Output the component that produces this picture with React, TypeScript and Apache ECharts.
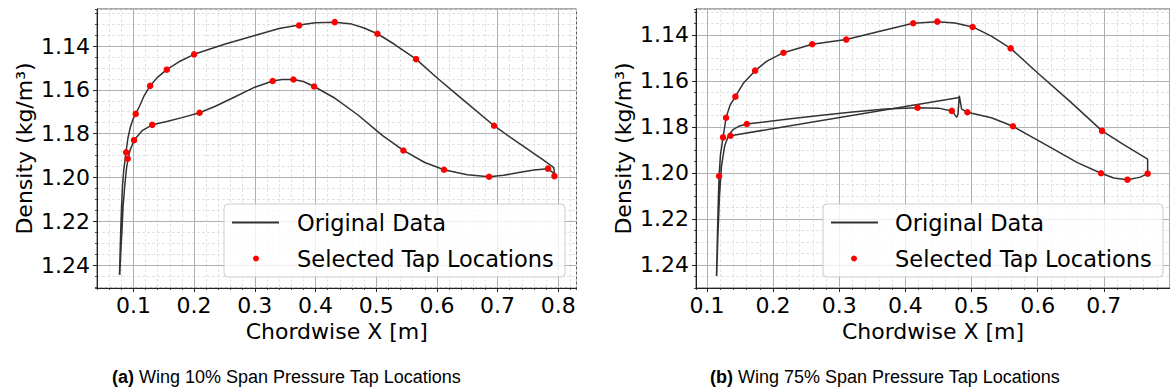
import { useEffect, useRef } from 'react';
import * as echarts from 'echarts';

// ---- Wing 10% span ----
const lineX10 = [0.077, 0.078, 0.079, 0.0805, 0.082, 0.084, 0.087, 0.091, 0.095, 0.1, 0.1038, 0.11, 0.118, 0.1275, 0.14, 0.155, 0.175, 0.2, 0.25, 0.3, 0.34, 0.373, 0.4, 0.4317, 0.46, 0.48, 0.502, 0.53, 0.5657, 0.6, 0.63, 0.66, 0.6942, 0.72, 0.75, 0.775, 0.7925, 0.794, 0.783, 0.76, 0.735, 0.71, 0.686, 0.65, 0.6118, 0.58, 0.5448, 0.51, 0.47, 0.43, 0.3977, 0.38, 0.3636, 0.345, 0.3295, 0.3, 0.265, 0.235, 0.209, 0.18, 0.155, 0.131, 0.115, 0.101, 0.094, 0.089, 0.086, 0.083, 0.081, 0.079, 0.0775];
const lineD10 = [1.2445, 1.235, 1.225, 1.213, 1.204, 1.197, 1.19, 1.182, 1.177, 1.173, 1.171, 1.1675, 1.1625, 1.1582, 1.1542, 1.1508, 1.1472, 1.1438, 1.1392, 1.1352, 1.132, 1.1304, 1.1294, 1.1291, 1.13, 1.1318, 1.1344, 1.1392, 1.146, 1.1545, 1.1615, 1.1685, 1.1764, 1.1815, 1.1872, 1.192, 1.1955, 1.1985, 1.196, 1.1966, 1.1978, 1.199, 1.1997, 1.1988, 1.1965, 1.1932, 1.1877, 1.1808, 1.1715, 1.1635, 1.1585, 1.1562, 1.1553, 1.1553, 1.156, 1.1588, 1.1635, 1.1675, 1.1705, 1.1727, 1.1745, 1.176, 1.1785, 1.183, 1.188, 1.195, 1.203, 1.213, 1.225, 1.235, 1.2445];
const tapX10 = [0.088, 0.0906, 0.101, 0.1038, 0.1275, 0.131, 0.155, 0.2, 0.209, 0.3295, 0.3636, 0.373, 0.3977, 0.4317, 0.502, 0.5448, 0.5657, 0.6118, 0.686, 0.6942, 0.783, 0.7936];
const tapD10 = [1.1885, 1.1915, 1.183, 1.171, 1.1582, 1.176, 1.1508, 1.1438, 1.1705, 1.156, 1.1553, 1.1306, 1.1585, 1.1291, 1.1344, 1.1877, 1.146, 1.1965, 1.1997, 1.1764, 1.196, 1.1994];

// ---- Wing 75% span ----
const lineX75 = [0.1145, 0.1155, 0.1165, 0.1175, 0.1184, 0.1205, 0.1244, 0.1289, 0.135, 0.143, 0.155, 0.1729, 0.19, 0.2157, 0.2591, 0.3106, 0.36, 0.4118, 0.4483, 0.475, 0.5017, 0.53, 0.5591, 0.6, 0.65, 0.6973, 0.73, 0.7662, 0.7662, 0.755, 0.7357, 0.715, 0.6958, 0.66, 0.62, 0.5626, 0.53, 0.4937, 0.485, 0.4815, 0.4795, 0.4777, 0.4702, 0.45, 0.4184, 0.37, 0.32, 0.27, 0.22, 0.1603, 0.148, 0.14, 0.133, 0.127, 0.122, 0.119, 0.1165, 0.1148];
const lineD75 = [1.2448, 1.232, 1.22, 1.209, 1.2013, 1.192, 1.1845, 1.176, 1.1705, 1.1668, 1.161, 1.1555, 1.1515, 1.1477, 1.144, 1.142, 1.1385, 1.1349, 1.1342, 1.1348, 1.1365, 1.1405, 1.1458, 1.1565, 1.1692, 1.1817, 1.1877, 1.194, 1.2003, 1.2018, 1.2029, 1.2022, 1.2001, 1.1955, 1.189, 1.1797, 1.176, 1.1736, 1.1722, 1.1664, 1.1745, 1.1758, 1.173, 1.1718, 1.1716, 1.1722, 1.1735, 1.175, 1.1766, 1.1787, 1.1797, 1.181, 1.1835, 1.188, 1.197, 1.21, 1.228, 1.2448];
const chordX75 = [0.1355, 0.4813];
const chordD75 = [1.1838, 1.1672];
const tapX75 = [0.1184, 0.1244, 0.1289, 0.1355, 0.143, 0.1603, 0.1729, 0.2157, 0.2591, 0.3106, 0.4118, 0.4184, 0.4483, 0.4702, 0.4937, 0.5017, 0.5591, 0.5626, 0.6958, 0.6973, 0.7357, 0.7662];
const tapD75 = [1.2013, 1.1845, 1.176, 1.1838, 1.1668, 1.1787, 1.1555, 1.1477, 1.144, 1.142, 1.1349, 1.1716, 1.1342, 1.173, 1.1736, 1.1365, 1.1458, 1.1797, 1.2001, 1.1817, 1.2029, 1.2003];

// ---- ticks ----
const xTicks10 = [0.1, 0.2, 0.3, 0.4, 0.5, 0.6, 0.7, 0.8];
const xTicks75 = [0.1, 0.2, 0.3, 0.4, 0.5, 0.6, 0.7];
const yTicks = [1.14, 1.16, 1.18, 1.2, 1.22, 1.24];

const F = 'DejaVu Sans';
const FS = 22;
const zip = (xs: number[], ys: number[]) => xs.map((x, i) => [x, ys[i]]);

const majorX = (gi: number, min: number, max: number, split: number, ticks: number[]) => ({
  type: 'value', gridIndex: gi, min, max, splitNumber: split, z: 1, position: 'bottom',
  axisLine: { show: true, onZero: false, lineStyle: { color: '#222', width: 1 } },
  axisTick: { show: true, length: 4, customValues: ticks, lineStyle: { color: '#222', width: 1 } },
  axisLabel: { show: true, customValues: ticks, margin: 6, fontSize: FS, fontFamily: F, color: '#000',
    formatter: (v: number) => v.toFixed(1) },
  splitLine: { show: true, lineStyle: { color: '#b0b0b0', width: 1 } },
  name: 'Chordwise X [m]', nameLocation: 'middle', nameGap: 31,
  nameTextStyle: { fontSize: FS, fontFamily: F, color: '#000' },
});
const minorX = (gi: number, min: number, max: number, split: number) => ({
  type: 'value', gridIndex: gi, min, max, splitNumber: split, z: 0, position: 'bottom',
  axisLine: { show: false, onZero: false }, axisLabel: { show: false },
  axisTick: { show: true, length: 2, lineStyle: { color: '#222', width: 0.8 } },
  splitLine: { show: true, lineStyle: { color: '#dcdcdc', width: 0.8, type: [3, 2] } },
});
const majorY = (gi: number, min: number, max: number) => ({
  type: 'value', gridIndex: gi, min, max, splitNumber: 6, inverse: true, z: 1, position: 'left',
  axisLine: { show: true, onZero: false, lineStyle: { color: '#222', width: 1 } },
  axisTick: { show: true, length: 4, customValues: yTicks, lineStyle: { color: '#222', width: 1 } },
  axisLabel: { show: true, customValues: yTicks, margin: 7, fontSize: FS, fontFamily: F, color: '#000',
    formatter: (v: number) => v.toFixed(2) },
  splitLine: { show: true, lineStyle: { color: '#b0b0b0', width: 1 } },
  name: 'Density (kg/m³)', nameLocation: 'middle', nameGap: 62,
  nameTextStyle: { fontSize: FS, fontFamily: F, color: '#000' },
});
const minorY = (gi: number, min: number, max: number, split: number) => ({
  type: 'value', gridIndex: gi, min, max, splitNumber: split, inverse: true, z: 0, position: 'left',
  axisLine: { show: false, onZero: false }, axisLabel: { show: false },
  axisTick: { show: true, length: 2, lineStyle: { color: '#222', width: 0.8 } },
  splitLine: { show: true, lineStyle: { color: '#dcdcdc', width: 0.8, type: [3, 2] } },
});

const legendItem = (name: string, icon: string, left: number, top: number, w: number, h: number, pad: number) => ({
  data: [{ name, icon }], left, top, orient: 'vertical', itemWidth: w, itemHeight: h, padding: 0,
  selectedMode: false, z: 10,
  textStyle: { fontSize: 22.5, fontFamily: F, color: '#000', lineHeight: 22, padding: [0, 0, 0, pad] },
});

export default function App() {
  const ref = useRef<HTMLDivElement>(null);
  useEffect(() => {
    document.body.style.margin = '0';
    const chart = echarts.init(ref.current!, null, { renderer: 'svg' });
    const lineStyle = { color: '#333333', width: 1.5 };
    chart.setOption({
      animation: false,
      grid: [
        { left: 97, top: 9, width: 479.5, height: 279, show: true, borderColor: '#555', borderWidth: 1, backgroundColor: 'transparent' },
        { left: 696, top: 9, width: 478.6, height: 279, show: true, borderColor: '#555', borderWidth: 1, backgroundColor: 'transparent' },
      ],
      xAxis: [
        minorX(0, 0.04, 0.83, 40),
        majorX(0, 0.04, 0.83, 8, xTicks10),
        minorX(1, 0.0835, 0.8, 36),
        majorX(1, 0.0835, 0.8, 7, xTicks75),
      ],
      yAxis: [
        minorY(0, 1.1231, 1.2505, 25),
        majorY(0, 1.1231, 1.2505),
        minorY(1, 1.1287, 1.25, 24),
        majorY(1, 1.1287, 1.25),
      ],
      legend: [
        legendItem('Original Data', 'rect', 232, 211, 47, 2, 13),
        legendItem('Selected Tap Locations', 'circle', 253, 247, 6, 6, 33),
        legendItem('Original Data', 'rect', 831, 211, 47, 2, 12),
        legendItem('Selected Tap Locations', 'circle', 851, 247, 6, 6, 33),
      ],
      series: [
        { name: 'Original Data', type: 'line', xAxisIndex: 1, yAxisIndex: 1, data: zip(lineX10, lineD10),
          symbol: 'none', color: '#333333', itemStyle: { color: '#333333' }, lineStyle, z: 2 },
        { name: 'Selected Tap Locations', type: 'scatter', xAxisIndex: 1, yAxisIndex: 1, data: zip(tapX10, tapD10),
          symbol: 'circle', symbolSize: 6.5, color: '#ff0000', itemStyle: { color: '#ff0000', opacity: 1 }, z: 3 },
        { name: 'Original Data', type: 'line', xAxisIndex: 3, yAxisIndex: 3, data: zip(lineX75, lineD75),
          symbol: 'none', color: '#333333', itemStyle: { color: '#333333' }, lineStyle, z: 2 },
        { name: 'Original Data', type: 'line', xAxisIndex: 3, yAxisIndex: 3, data: zip(chordX75, chordD75),
          symbol: 'none', color: '#333333', itemStyle: { color: '#333333' }, lineStyle, z: 2 },
        { name: 'Selected Tap Locations', type: 'scatter', xAxisIndex: 3, yAxisIndex: 3, data: zip(tapX75, tapD75),
          symbol: 'circle', symbolSize: 6.5, color: '#ff0000', itemStyle: { color: '#ff0000', opacity: 1 }, z: 3 },
      ],
      graphic: {
        elements: [
          { type: 'rect', z: 5, shape: { x: 224, y: 204, width: 341, height: 73, r: 4 },
            style: { fill: 'rgba(255,255,255,0.8)', stroke: '#cccccc', lineWidth: 1 } },
          { type: 'rect', z: 5, shape: { x: 823, y: 204, width: 340, height: 73, r: 4 },
            style: { fill: 'rgba(255,255,255,0.8)', stroke: '#cccccc', lineWidth: 1 } },
          { type: 'text', x: 112, y: 377, z: 5,
            style: { text: '{b|(a)} Wing 10% Span Pressure Tap Locations', fontSize: 18, fontFamily: 'Liberation Sans',
              fill: '#000', verticalAlign: 'middle',
              rich: { b: { fontWeight: 'bold', fontSize: 18, fontFamily: 'Liberation Sans', fill: '#000' } } } },
          { type: 'text', x: 710, y: 377, z: 5,
            style: { text: '{b|(b)} Wing 75% Span Pressure Tap Locations', fontSize: 18, fontFamily: 'Liberation Sans',
              fill: '#000', verticalAlign: 'middle',
              rich: { b: { fontWeight: 'bold', fontSize: 18, fontFamily: 'Liberation Sans', fill: '#000' } } } },
        ],
      },
    });
    return () => chart.dispose();
  }, []);
  return <div ref={ref} style={{ width: 1170, height: 391 }} />;
}
